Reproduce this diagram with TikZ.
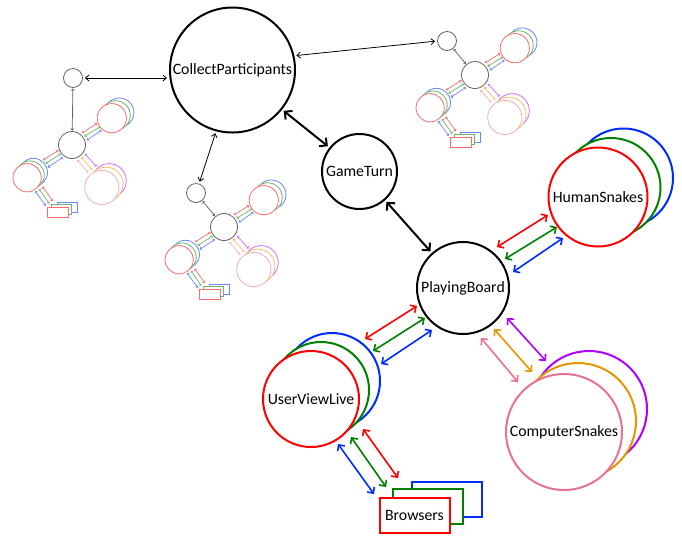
\documentclass[tikz,border=0pt]{standalone}
\usepackage{fontspec}
\setmainfont{Carlito}
\usetikzlibrary{arrows.meta,calc}
\definecolor{cR}{RGB}{255,0,0}
\definecolor{cG}{RGB}{0,128,0}
\definecolor{cB}{RGB}{0,45,255}
\definecolor{cP}{RGB}{175,0,255}
\definecolor{cO}{RGB}{230,150,0}
\definecolor{cK}{RGB}{232,115,145}
\colorlet{mR}{cR!58}
\colorlet{mG}{cG!58}
\colorlet{mB}{cB!58}
\colorlet{mP}{cP!58}
\colorlet{mO}{cO!58}
\colorlet{mK}{cK!58}
\colorlet{mGray}{black!62}
\tikzset{
  lbl/.style={font=\fontsize{15.8}{18}\selectfont},
  bigc/.style={circle, line width=2pt, inner sep=0pt, fill=white, lbl},
  boxn/.style={rectangle, line width=2pt, inner sep=0pt, fill=white, lbl,
    minimum width=70pt, minimum height=35pt},
  tri/.style={draw=#1, line width=1.6pt, >={Straight Barb[length=4.5pt,width=9pt]}, <->},
  blk/.style={draw=black, line width=2pt, >={Straight Barb[length=5.5pt,width=11pt]}, <->,
    shorten <=2pt, shorten >=2pt},
  thinar/.style={draw=black, line width=0.8pt, >={Straight Barb[length=3.5pt,width=6pt]}, <->,
    shorten <=2pt, shorten >=2pt},
  mtri/.style={draw=#1, line width=0.7pt, >={Straight Barb[length=1.4pt,width=2.8pt]}, <->},
  minilink/.style={draw=mGray, line width=0.7pt, >={Straight Barb[length=1.6pt,width=3pt]}, <->,
    shorten <=0.5pt, shorten >=0.5pt},
  minigt/.style={circle, draw=mGray, line width=0.8pt, inner sep=0pt, minimum size=19pt},
  minipb/.style={circle, draw=mGray, line width=0.8pt, inner sep=0pt, minimum size=27pt},
  minisys/.pic={
    \begin{scope}[line width=0.8pt]
      \draw[mB, fill=white] (160.5,-110) circle[radius=49.5];
      \draw[mG, fill=white] (148,-100.5) circle[radius=49.5];
      \draw[mR, fill=white] (135,-91) circle[radius=49.5];
      \draw[mP, fill=white] (126,121) circle[radius=58];
      \draw[mO, fill=white] (115,133) circle[radius=58];
      \draw[mK, fill=white] (101,144) circle[radius=58];
      \draw[mB, fill=white] (-131,93) circle[radius=48];
      \draw[mG, fill=white] (-142,102) circle[radius=48];
      \draw[mR, fill=white] (-152,111) circle[radius=48];
      \draw[mB, fill=white] (-51,193.5) rectangle (19,228.5);
      \draw[mG, fill=white] (-70.5,201) rectangle (-0.5,236);
      \draw[mR, fill=white] (-83.5,210) rectangle (-13.5,245);
      \draw[mtri=mR] (34,-41) -- (85,-73);
      \draw[mtri=mG] (42,-29) -- (94,-61);
      \draw[mtri=mB] (50,-16) -- (100,-50);
      \draw[mtri=mR] (-98,51) -- (-46,18);
      \draw[mtri=mG] (-90,63) -- (-38,30);
      \draw[mtri=mB] (-82,76) -- (-31,42);
      \draw[mtri=mR] (-100,141) -- (-65,190);
      \draw[mtri=mG] (-112,149) -- (-77,199);
      \draw[mtri=mB] (-125,156) -- (-89,206);
      \draw[mtri=mP] (44,30) -- (83,73);
      \draw[mtri=mO] (31,41) -- (69,84);
      \draw[mtri=mK] (18,50) -- (55,94);
    \end{scope}
  }
}
\begin{document}
\begin{tikzpicture}[x=1pt,y=-1pt]
\useasboundingbox (0,0) rectangle (682,542);

% miniature systems
\pic[scale=0.295] at (72,145) {minisys};
\node[minipb] (mp1) at (72,145) {};
\node[minigt] (m1) at (73,78) {};
\draw[minilink] (m1) -- (mp1);

\pic[scale=0.295] at (224,227) {minisys};
\node[minipb] (mp2) at (224,227) {};
\node[minigt] (m2) at (196,193) {};
\draw[minilink] (m2) -- (mp2);

\pic[scale=0.295] at (475,75) {minisys};
\node[minipb] (mp3) at (475,75) {};
\node[minigt] (m3) at (447,41) {};
\draw[minilink] (m3) -- (mp3);

% main nodes
\node[bigc, draw=black, minimum size=125pt] (cp) at (232.5,70) {CollectParticipants};
\node[bigc, draw=black, minimum size=75pt] (gt) at (359.5,171.5) {GameTurn};
\node[bigc, draw=black, minimum size=92pt] (pb) at (463,288) {PlayingBoard};

\node[bigc, draw=cB, minimum size=99pt] (hsB) at (623.5,178) {};
\node[bigc, draw=cG, minimum size=99pt] (hsG) at (611,187.5) {};
\node[bigc, draw=cR, minimum size=99pt] (hs) at (598,197) {HumanSnakes};

\node[bigc, draw=cP, minimum size=116pt] (csP) at (589,409) {};
\node[bigc, draw=cO, minimum size=116pt] (csO) at (578,421) {};
\node[bigc, draw=cK, minimum size=116pt] (cs) at (564,432) {ComputerSnakes};

\node[bigc, draw=cB, minimum size=96pt] (uvlB) at (332,381) {};
\node[bigc, draw=cG, minimum size=96pt] (uvlG) at (321,390) {};
\node[bigc, draw=cR, minimum size=96pt] (uvl) at (311,399) {UserViewLive};

\node[boxn, draw=cB] (brB) at (447,499) {};
\node[boxn, draw=cG] (brG) at (427.5,506.5) {};
\node[boxn, draw=cR] (br) at (414.5,515.5) {Browsers};

% thin connectors to the miniatures
\draw[thinar] (m1.east) -- (m1.east -| cp.west);
\draw[thinar] (cp.13) -- (m3.west);
\draw[thinar] (cp.255) -- (m2);

% thick black connectors
\draw[blk] (cp) -- (gt);
\draw[blk] (gt) -- (pb);

% PlayingBoard -- HumanSnakes
\draw[tri=cR] ($(pb)+(34,-41)$) -- ($(hs)+(-50,18)$);
\draw[tri=cG] ($(pb)+(42,-29)$) -- ($(hs)+(-41,30)$);
\draw[tri=cB] ($(pb)+(50,-16)$) -- ($(hs)+(-35,41)$);
% UserViewLive -- PlayingBoard
\draw[tri=cR] ($(uvl)+(54,-60)$) -- ($(pb)+(-46,18)$);
\draw[tri=cG] ($(uvl)+(62,-48)$) -- ($(pb)+(-38,30)$);
\draw[tri=cB] ($(uvl)+(70,-35)$) -- ($(pb)+(-31,42)$);
% UserViewLive -- Browsers
\draw[tri=cR] ($(uvl)+(52,30)$) -- ($(br)+(-16.5,-37.5)$);
\draw[tri=cG] ($(uvl)+(40,38)$) -- ($(br)+(-28.5,-28.5)$);
\draw[tri=cB] ($(uvl)+(27,45)$) -- ($(br)+(-40.5,-21.5)$);
% PlayingBoard -- ComputerSnakes
\draw[tri=cP] ($(pb)+(44,30)$) -- ($(cs)+(-18,-71)$);
\draw[tri=cO] ($(pb)+(31,41)$) -- ($(cs)+(-32,-60)$);
\draw[tri=cK] ($(pb)+(18,50)$) -- ($(cs)+(-46,-50)$);
\end{tikzpicture}
\end{document}
